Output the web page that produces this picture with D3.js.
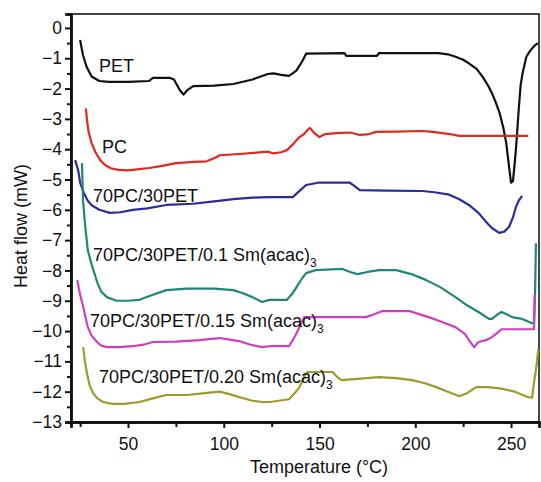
<!DOCTYPE html>
<html>
<head>
<meta charset="utf-8">
<script src="https://cdn.jsdelivr.net/npm/d3@7"></script>
<style>
  body { margin: 0; background: #fff; }
  svg text { font-family: "Liberation Sans", Arial, Helvetica, sans-serif; fill: #111; }
  .curve { fill: none; stroke-width: 2.2; stroke-linejoin: round; }
</style>
</head>
<body>
<svg></svg>
<script>
var width = 541;
var height = 482;

// temperature (°C), heat flow (mW)
var pet = [[25,-0.4],[26.5,-0.9],[28.5,-1.3],[31,-1.6],[35,-1.75],[40,-1.78],[50,-1.78],[61,-1.75],[63,-1.65],[72,-1.65],
  [74,-1.7],[77,-2.05],[79,-2.2],[81,-2.05],[84,-1.92],[95,-1.9],[105,-1.85],[115,-1.7],[123,-1.52],[126,-1.5],
  [130,-1.55],[134,-1.58],[136,-1.5],[138,-1.4],[141,-1.1],[143,-0.85],[163,-0.83],[164,-0.92],[180,-0.92],[181,-0.83],
  [212,-0.83],[217,-0.87],[221,-0.95],[225,-1.05],[228,-1.17],[232,-1.35],[235,-1.6],[238,-1.9],[240,-2.15],[242,-2.45],
  [244,-2.8],[246,-3.3],[247.5,-3.8],[249,-4.6],[250,-5.1],[251,-5.05],[252,-4.4],[252.8,-3.8],[254,-2.7],[255,-1.9],
  [256,-1.5],[258,-0.95],[260,-0.75],[262,-0.6],[264,-0.5]];

var pc = [[28,-2.65],[28.7,-3.1],[29.5,-3.45],[31,-3.8],[33,-4.1],[35.5,-4.36],[38,-4.52],[41,-4.63],[45,-4.68],[50,-4.7],
  [56,-4.66],[61,-4.62],[68,-4.55],[75,-4.46],[85,-4.42],[91,-4.4],[95,-4.3],[98,-4.2],[110,-4.15],[123,-4.08],
  [126,-4.14],[130,-4.1],[133,-4.03],[136,-3.85],[139.5,-3.6],[142,-3.5],[144,-3.35],[145,-3.3],[147,-3.45],[150,-3.6],
  [153,-3.5],[159,-3.47],[166,-3.45],[171,-3.53],[176,-3.5],[179.5,-3.43],[190,-3.42],[203.6,-3.4],[209,-3.43],[214,-3.47],
  [218,-3.5],[223,-3.56],[259,-3.56]];

var blend = [[22.4,-4.36],[24,-4.7],[25,-5.1],[27,-5.45],[29,-5.7],[31,-5.85],[35,-6.0],[40.5,-6.1],[46,-6.08],[52.5,-6.0],
  [60,-5.95],[70,-5.84],[84,-5.8],[95,-5.72],[105,-5.65],[115,-5.6],[123,-5.58],[136,-5.58],[140,-5.35],[143,-5.18],
  [150,-5.1],[165.6,-5.1],[168,-5.2],[171,-5.35],[185,-5.37],[203.6,-5.38],[210,-5.42],[217.7,-5.5],[223,-5.65],[228,-5.84],
  [233,-6.1],[237,-6.4],[240,-6.6],[243.8,-6.76],[246.5,-6.72],[249,-6.56],[251,-6.25],[252.6,-5.9],[254,-5.7],[255.8,-5.54]];

var sm010 = [[26,-4.46],[26.5,-5.68],[27.5,-6.44],[29,-7.33],[31,-7.8],[32.5,-8.1],[34,-8.4],[36,-8.7],[39,-8.88],[44,-9.0],
  [50,-9.0],[56,-8.97],[63,-8.8],[70,-8.65],[80.7,-8.6],[95,-8.6],[105,-8.65],[110,-8.75],[115,-8.88],[120,-9.04],
  [124,-8.97],[133,-8.97],[136,-8.75],[138,-8.55],[141,-8.25],[143,-8.09],[148,-7.99],[162,-7.95],[166,-8.05],[169.8,-8.12],
  [175,-8.05],[181,-7.99],[190,-7.99],[198,-8.12],[205.7,-8.32],[213,-8.55],[221,-8.88],[227,-9.15],[233,-9.37],[238.5,-9.6],
  [240,-9.6],[243,-9.45],[245,-9.37],[248,-9.45],[250.5,-9.54],[255.8,-9.6],[261,-9.74],[262,-9.74],[262.5,-8.9],[263,-7.1]];

var sm015 = [[23.5,-8.32],[25,-8.8],[26.6,-9.2],[29,-9.87],[31,-10.15],[33.8,-10.36],[36,-10.48],[39,-10.53],[45,-10.53],[52.6,-10.5],
  [58,-10.45],[63,-10.36],[75,-10.35],[87.5,-10.3],[95,-10.25],[98,-10.23],[103,-10.28],[108,-10.33],[114,-10.45],[120,-10.53],
  [124,-10.5],[134,-10.5],[136,-10.3],[138,-10.07],[140,-9.8],[142,-9.54],[174,-9.54],[177.6,-9.47],[182.8,-9.34],[197,-9.34],
  [202,-9.44],[207,-9.54],[214,-9.7],[221,-9.87],[226,-10.1],[228,-10.3],[230.7,-10.53],[233,-10.36],[237,-10.3],[240,-10.2],
  [243,-10.05],[245,-9.94],[262,-9.94],[262.3,-8.8]];

var sm020 = [[26.6,-10.53],[27.5,-11.0],[28.6,-11.4],[30,-11.8],[31.8,-12.05],[34,-12.22],[37,-12.34],[42,-12.4],[48,-12.4],[56,-12.34],
  [63,-12.22],[70,-12.11],[80.7,-12.11],[90,-12.05],[98,-12.0],[103,-12.08],[108,-12.18],[115,-12.3],[120,-12.34],[124,-12.34],
  [134,-12.25],[137,-12.05],[139.6,-11.85],[142,-11.5],[143.8,-11.35],[156.8,-11.35],[159,-11.5],[161.5,-11.62],[170,-11.58],[181,-11.52],
  [190,-11.55],[198.4,-11.62],[205,-11.72],[211,-11.85],[217,-12.0],[223,-12.15],[227,-12.05],[231.8,-11.85],[238,-11.85],[245,-11.9],
  [252,-12.0],[259,-12.18],[261,-12.2],[262,-11.7],[263.5,-11.05],[264.2,-10.6]];

var series = [
  { name: "PET", data: pet, color: "#111111", lx: 99, ly: 72, sub: false },
  { name: "PC", data: pc, color: "#e0291f", lx: 102, ly: 153, sub: false },
  { name: "70PC/30PET", data: blend, color: "#2b2c9c", lx: 93, ly: 202, sub: false },
  { name: "70PC/30PET/0.1 Sm(acac)", data: sm010, color: "#1f8772", lx: 93, ly: 261, sub: true },
  { name: "70PC/30PET/0.15 Sm(acac)", data: sm015, color: "#cf3fbd", lx: 90, ly: 327, sub: true },
  { name: "70PC/30PET/0.20 Sm(acac)", data: sm020, color: "#9d9b2c", lx: 99, ly: 383, sub: true }
];

var xMajor = [50, 100, 150, 200, 250];
var xMinor = [25, 75, 125, 175, 225];
var yMajor = d3.range(0, -14, -1);
var yMinor = d3.range(-0.5, -13, -1);

var plotL = 71, plotR = 539, plotT = 14, plotB = 422;

var x = d3.scaleLinear().domain([20.24, 264.6]).range([plotL, plotR]);
var y = d3.scaleLinear().domain([-13, 0.46]).range([plotB, plotT]);

var svg = d3.select("svg")
    .attr("width", width)
    .attr("height", height);

// frame
svg.append("rect")
    .attr("x", plotL).attr("y", plotT)
    .attr("width", plotR - plotL).attr("height", plotB - plotT)
    .attr("fill", "none").attr("stroke", "#333").attr("stroke-width", 1.8);

// curves
var line = d3.line()
    .x(function(d) { return x(d[0]); })
    .y(function(d) { return y(d[1]); });

svg.append("g").selectAll(".curve")
    .data(series)
  .enter().append("path")
    .attr("class", "curve")
    .attr("stroke", function(d) { return d.color; })
    .attr("d", function(d) { return line(d.data); });

// axes
var gx = svg.append("g").attr("transform", "translate(0," + plotB + ")");
gx.call(d3.axisBottom(x).tickValues(xMajor).tickSize(6).tickPadding(10).tickFormat(d3.format("d")));
gx.append("g").call(d3.axisBottom(x).tickValues(xMinor).tickSize(5).tickFormat(""));

var gy = svg.append("g").attr("transform", "translate(" + plotL + ",0)");
gy.call(d3.axisLeft(y).tickValues(yMajor).tickSize(6).tickPadding(3).tickFormat(d3.format("d")));
gy.append("g").call(d3.axisLeft(y).tickValues(yMinor).tickSize(4).tickFormat(""));

svg.selectAll(".domain").attr("stroke", "#111").attr("stroke-width", 2.4);
svg.selectAll(".tick line").attr("stroke", "#111").attr("stroke-width", 2);
svg.selectAll(".tick text").attr("font-size", 17.5).attr("fill", "#111")
    .style("font-family", "'Liberation Sans', Arial, sans-serif");

// axis titles
svg.append("text")
    .attr("x", 319).attr("y", 473)
    .attr("text-anchor", "middle")
    .attr("font-size", 18)
    .text("Temperature (\u00B0C)");

svg.append("text")
    .attr("transform", "translate(27,226) rotate(-90)")
    .attr("text-anchor", "middle")
    .attr("font-size", 18)
    .text("Heat flow (mW)");

// curve labels
var lab = svg.append("g").selectAll(".lab")
    .data(series)
  .enter().append("text")
    .attr("class", "lab")
    .attr("x", function(d) { return d.lx; })
    .attr("y", function(d) { return d.ly; })
    .attr("font-size", 18)
    .text(function(d) { return d.name; });

lab.filter(function(d) { return d.sub; })
  .append("tspan")
    .attr("font-size", 12)
    .attr("dy", 6)
    .text("3");
</script>
</body>
</html>
